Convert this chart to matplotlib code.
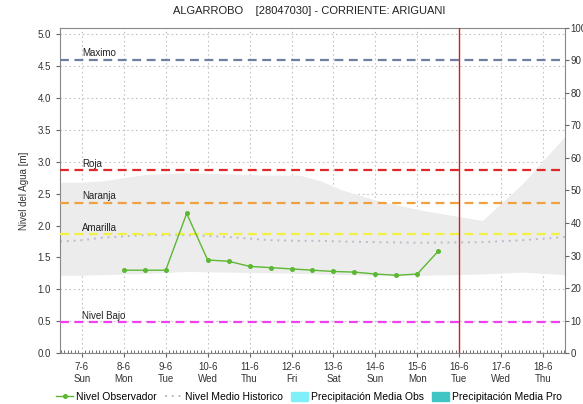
import matplotlib
matplotlib.use("Agg")
import matplotlib.pyplot as plt
import numpy as np
from matplotlib.lines import Line2D
from matplotlib.patches import Patch

plt.rcParams["font.family"] = ["Liberation Sans", "DejaVu Sans"]

# days: 0 = 7-6 ... 11 = 18-6
DAY_LABELS = ["7-6\nSun", "8-6\nMon", "9-6\nTue", "10-6\nWed", "11-6\nThu",
              "12-6\nFri", "13-6\nSat", "14-6\nSun", "15-6\nMon", "16-6\nTue",
              "17-6\nWed", "18-6\nThu"]

# observed level (every 12 h)
OBS_X = [1.0, 1.5, 2.0, 2.5, 3.0, 3.5, 4.0, 4.5, 5.0, 5.5, 6.0, 6.5, 7.0,
         7.5, 8.0, 8.5]
OBS_Y = [1.30, 1.30, 1.30, 2.19, 1.46, 1.44, 1.36, 1.34, 1.32, 1.30, 1.28,
         1.27, 1.24, 1.22, 1.24, 1.60]

# historic band and mean
HIST_X = [-0.52, 0.0, 0.5, 1.5, 2.5, 3.5, 4.5, 5.2, 5.7, 6.2, 7.0, 8.1,
          9.55, 10.5, 11.52]
HIST_HI = [2.68, 2.68, 2.70, 2.80, 2.83, 2.81, 2.79, 2.79, 2.70, 2.56,
           2.40, 2.24, 2.08, 2.65, 3.40]
HIST_LO = [1.22, 1.22, 1.23, 1.25, 1.28, 1.27, 1.26, 1.25, 1.24, 1.23,
           1.22, 1.22, 1.24, 1.27, 1.23]
HIST_MEAN = [1.75, 1.77, 1.81, 1.85, 1.85, 1.82, 1.77, 1.76, 1.76, 1.75,
             1.74, 1.73, 1.74, 1.77, 1.82]

# alert thresholds
LEVELS = ["Maximo", "Roja", "Naranja", "Amarilla", "Nivel Bajo"]
LEVEL_VALUES = [4.60, 2.87, 2.36, 1.86, 0.49]
LEVEL_COLORS = ["#6f7fa0", "#e02828", "#f0a040", "#f2f040", "#f040f0"]

TODAY = 9.0

fig = plt.figure(figsize=(5.83, 4.04), dpi=100)
ax = fig.add_axes([0.103, 0.126, 0.866, 0.805])

ax.fill_between(HIST_X, HIST_LO, HIST_HI, color="#ececec", lw=0, zorder=1)
ax.plot(HIST_X, HIST_MEAN, ls=(0, (1, 2.5)), color="#bcbcc8", lw=1.4, zorder=2)

for name, val, col in zip(LEVELS, LEVEL_VALUES, LEVEL_COLORS):
    ax.axhline(val, color=col, ls=(0, (4, 2.5)), lw=1.6, zorder=3)
    ax.text(0.0, val + 0.02, name, fontsize=7, ha="left", va="bottom",
            color="#222222", zorder=4)

ax.axvline(TODAY, color="#d02020", lw=1.0, zorder=4)

ax.plot(OBS_X, OBS_Y, "o-", color="#5cb832", lw=1.0, ms=2.6, zorder=5)

ax.set_xlim(-0.52, 11.52)
ax.set_ylim(0, 5.1)
ax.set_xticks(range(len(DAY_LABELS)))
ax.set_xticklabels(DAY_LABELS, fontsize=7, color="#333333")
ax.set_xticks(np.arange(-0.5, 11.52, 1 / 12), minor=True)
ax.tick_params(axis="x", which="minor", length=2, direction="in",
               color="#555555")
ax.set_yticks(np.arange(0, 5.01, 0.5))
ax.set_yticklabels([f"{v:.1f}" for v in np.arange(0, 5.01, 0.5)],
                   fontsize=7, color="#333333")
ax.tick_params(axis="both", which="major", length=3, color="#666666")
ax.grid(True, which="major", ls=(0, (1.5, 2.5)), color="#c4c4c4", lw=0.8)
ax.set_axisbelow(True)
for s in ax.spines.values():
    s.set_color("#888888")
    s.set_linewidth(0.8)

ax.set_ylabel("Nivel del Agua [m]", fontsize=7, color="#333333", labelpad=6)

ax2 = ax.twinx()
ax2.set_ylim(0, 100)
ax2.set_yticks(range(0, 101, 10))
ax2.set_yticklabels([str(v) for v in range(0, 101, 10)], fontsize=7,
                    color="#333333")
ax2.tick_params(length=3, pad=1, color="#666666")
for s in ax2.spines.values():
    s.set_visible(False)

fig.suptitle("ALGARROBO    [28047030] - CORRIENTE: ARIGUANI", fontsize=8,
             x=0.53, y=0.985, color="#222222")

handles = [
    Line2D([], [], color="#5cb832", marker="o", ms=2.6, lw=1.0),
    Line2D([], [], color="#bcbcc8", ls=(0, (1, 2.5)), lw=1.4),
    Patch(color="#80f0f8"),
    Patch(color="#40c4c4"),
]
labels = ["Nivel Observador", "Nivel Medio Historico",
          "Precipitación Media Obs", "Precipitación Media Pro"]
fig.legend(handles, labels, loc="center", bbox_to_anchor=(0.53, 0.018),
           ncol=4, frameon=False, fontsize=7.5, handlelength=1.6,
           handletextpad=0.3, columnspacing=0.8, handleheight=1.0)

fig.savefig("out.png", dpi=100)
